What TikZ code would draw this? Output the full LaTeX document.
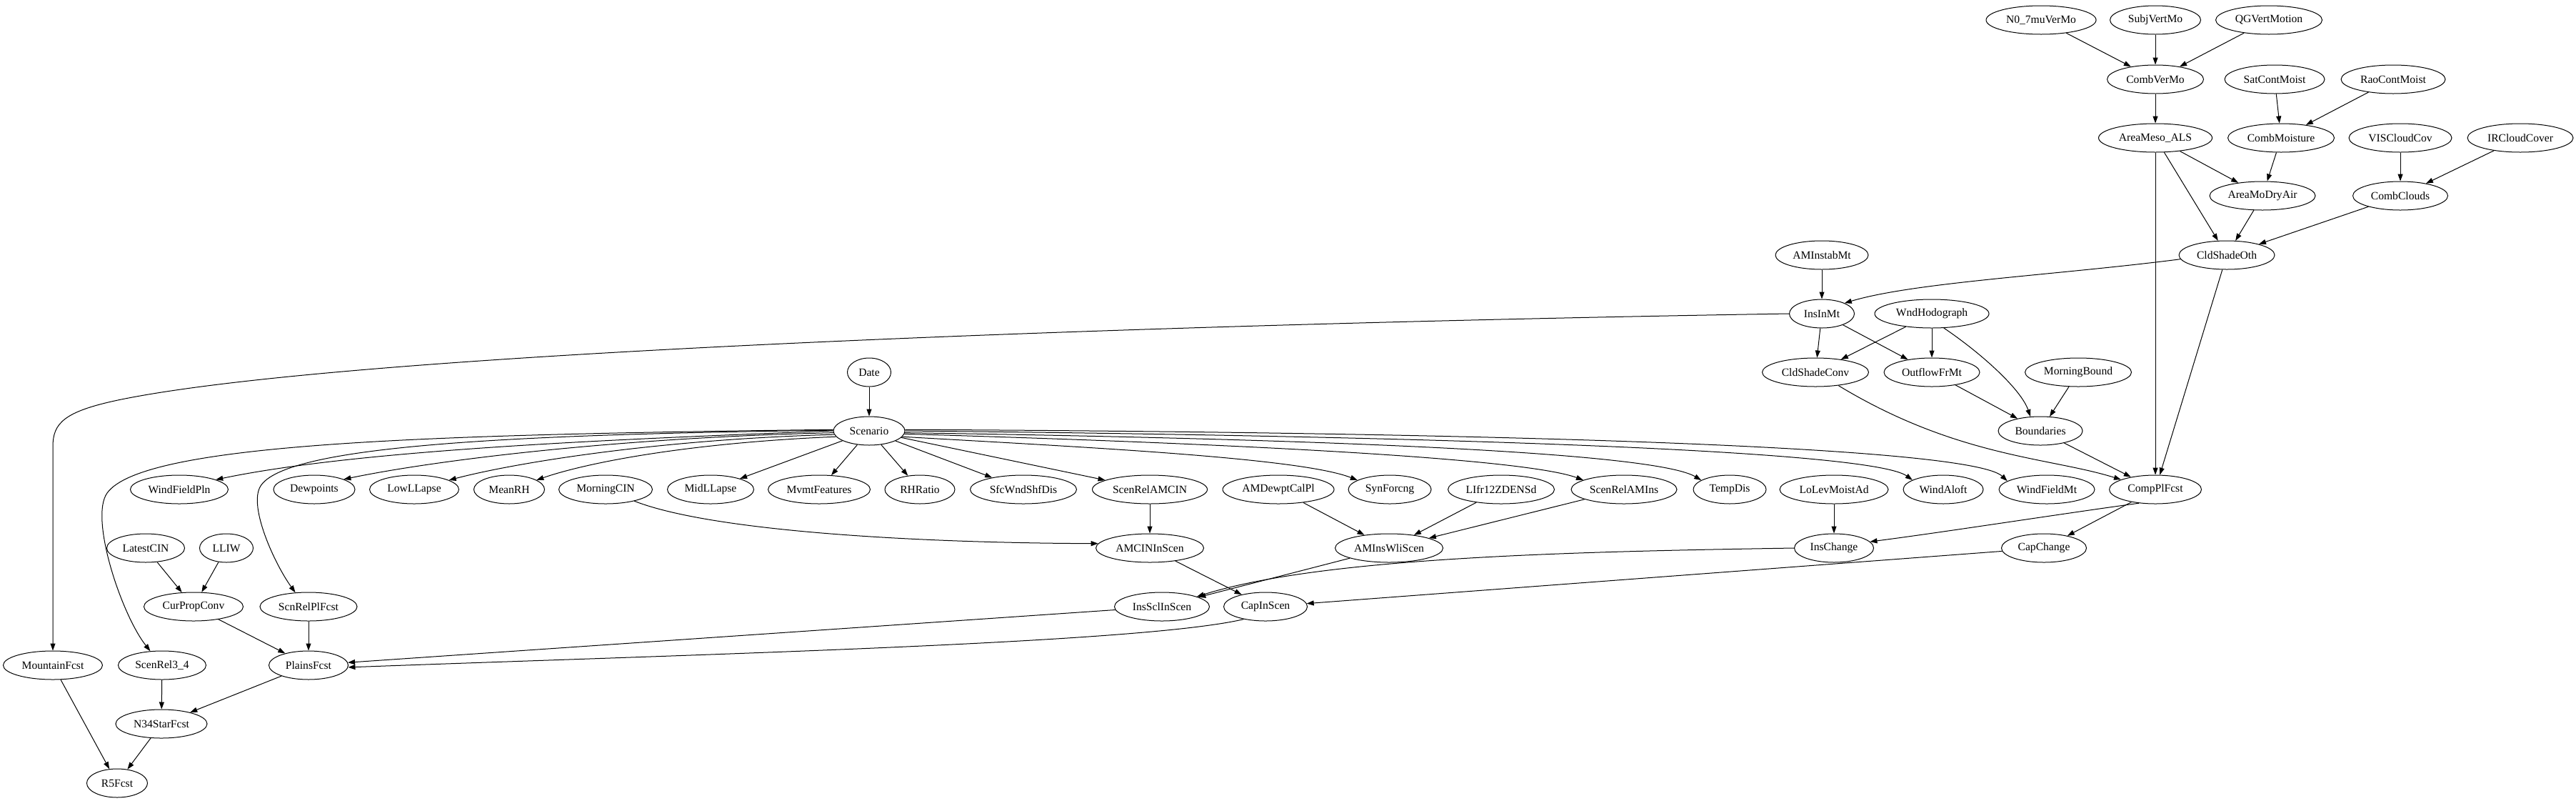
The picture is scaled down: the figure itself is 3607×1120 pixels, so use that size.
\documentclass[tikz,border=0pt]{standalone}
\usepackage{fontspec}
\setmainfont{Liberation Serif}
\usetikzlibrary{shapes.geometric,arrows.meta}
\begin{document}
\begin{tikzpicture}[x=1pt,y=-1pt,
  nd/.style={ellipse,draw,line width=1pt,inner sep=0pt,minimum height=40pt,font=\fontsize{15.6}{18}\selectfont},
  arr/.style={line width=1pt,-{Triangle[length=10pt,width=7pt]}}]
\useasboundingbox (0,0) rectangle (3607,1120);
% row 1
\node[nd,minimum width=154pt] (N07muVerMo) at (2858,28) {N0\_7muVerMo};
\node[nd,minimum width=127pt] (SubjVertMo) at (3018,28) {SubjVertMo};
\node[nd,minimum width=149pt] (QGVertMotion) at (3177,28) {QGVertMotion};
% row 2
\node[nd,minimum width=135pt] (CombVerMo) at (3018,111) {CombVerMo};
\node[nd,minimum width=140pt] (SatContMoist) at (3185,111) {SatContMoist};
\node[nd,minimum width=146pt] (RaoContMoist) at (3351,111) {RaoContMoist};
% row 3
\node[nd,minimum width=159pt] (AreaMesoALS) at (3018,193) {AreaMeso\_ALS};
\node[nd,minimum width=149pt] (CombMoisture) at (3194,193) {CombMoisture};
\node[nd,minimum width=144pt] (VISCloudCov) at (3361,193) {VISCloudCov};
\node[nd,minimum width=148pt] (IRCloudCover) at (3529,193) {IRCloudCover};
% row 4
\node[nd,minimum width=148pt] (AreaMoDryAir) at (3168,274) {AreaMoDryAir};
\node[nd,minimum width=133pt] (CombClouds) at (3361,274) {CombClouds};
% row 5
\node[nd,minimum width=130pt] (AMInstabMt) at (2551,357) {AMInstabMt};
\node[nd,minimum width=134pt] (CldShadeOth) at (3118,357) {CldShadeOth};
% row 6
\node[nd,minimum width=91pt] (InsInMt) at (2551,439) {InsInMt};
\node[nd,minimum width=160pt] (WndHodograph) at (2705,439) {WndHodograph};
% row 7
\node[nd,minimum width=61pt] (Date) at (1217,521) {Date};
\node[nd,minimum width=149pt] (CldShadeConv) at (2542,521) {CldShadeConv};
\node[nd,minimum width=134pt] (OutflowFrMt) at (2705,521) {OutflowFrMt};
\node[nd,minimum width=149pt] (MorningBound) at (2910,521) {MorningBound};
% row 8
\node[nd,minimum width=100pt] (Scenario) at (1217,603) {Scenario};
\node[nd,minimum width=118pt] (Boundaries) at (2857,603) {Boundaries};
% row 9
\node[nd,minimum width=137pt] (WindFieldPln) at (251,685) {WindFieldPln};
\node[nd,minimum width=114pt] (Dewpoints) at (440,685) {Dewpoints};
\node[nd,minimum width=125pt] (LowLLapse) at (580,685) {LowLLapse};
\node[nd,minimum width=99pt] (MeanRH) at (713,685) {MeanRH};
\node[nd,minimum width=131pt] (MorningCIN) at (848,685) {MorningCIN};
\node[nd,minimum width=121pt] (MidLLapse) at (995,685) {MidLLapse};
\node[nd,minimum width=143pt] (MvmtFeatures) at (1147,685) {MvmtFeatures};
\node[nd,minimum width=98pt] (RHRatio) at (1288,685) {RHRatio};
\node[nd,minimum width=149pt] (SfcWndShfDis) at (1433,685) {SfcWndShfDis};
\node[nd,minimum width=161pt] (ScenRelAMCIN) at (1610,685) {ScenRelAMCIN};
\node[nd,minimum width=156pt] (AMDewptCalPl) at (1790,685) {AMDewptCalPl};
\node[nd,minimum width=116pt] (SynForcng) at (1946,685) {SynForcng};
\node[nd,minimum width=149pt] (LIfrZDENSd) at (2102,685) {LIfr12ZDENSd};
\node[nd,minimum width=148pt] (ScenRelAMIns) at (2274,685) {ScenRelAMIns};
\node[nd,minimum width=102pt] (TempDis) at (2422,685) {TempDis};
\node[nd,minimum width=152pt] (LoLevMoistAd) at (2568,685) {LoLevMoistAd};
\node[nd,minimum width=112pt] (WindAloft) at (2721,685) {WindAloft};
\node[nd,minimum width=134pt] (WindFieldMt) at (2866,685) {WindFieldMt};
\node[nd,minimum width=129pt] (CompPlFcst) at (3018,685) {CompPlFcst};
% row 10
\node[nd,minimum width=109pt] (LatestCIN) at (204,767) {LatestCIN};
\node[nd,minimum width=75pt] (LLIW) at (317,767) {LLIW};
\node[nd,minimum width=151pt] (AMCINInScen) at (1610,767) {AMCINInScen};
\node[nd,minimum width=151pt] (AMInsWliScen) at (1945,767) {AMInsWliScen};
\node[nd,minimum width=111pt] (InsChange) at (2568,767) {InsChange};
\node[nd,minimum width=119pt] (CapChange) at (2862,767) {CapChange};
% row 11
\node[nd,minimum width=139pt] (CurPropConv) at (271,849) {CurPropConv};
\node[nd,minimum width=136pt] (ScnRelPlFcst) at (432,849) {ScnRelPlFcst};
\node[nd,minimum width=133pt] (InsSclInScen) at (1627,849) {InsSclInScen};
\node[nd,minimum width=117pt] (CapInScen) at (1772,849) {CapInScen};
% row 12
\node[nd,minimum width=139pt] (MountainFcst) at (74,931) {MountainFcst};
\node[nd,minimum width=123pt] (ScenRelThFo) at (227,931) {ScenRel3\_4};
\node[nd,minimum width=111pt] (PlainsFcst) at (432,931) {PlainsFcst};
% rows 13-14
\node[nd,minimum width=128pt] (NStarFcst) at (226,1013) {N34StarFcst};
\node[nd,minimum width=85pt] (RFcst) at (164,1096) {R5Fcst};

% straight edges
\draw[arr] (N07muVerMo) -- (CombVerMo);
\draw[arr] (SubjVertMo) -- (CombVerMo);
\draw[arr] (QGVertMotion) -- (CombVerMo);
\draw[arr] (CombVerMo) -- (AreaMesoALS);
\draw[arr] (SatContMoist) -- (CombMoisture);
\draw[arr] (RaoContMoist) -- (CombMoisture);
\draw[arr] (AreaMesoALS) -- (AreaMoDryAir);
\draw[arr] (CombMoisture) -- (AreaMoDryAir);
\draw[arr] (VISCloudCov) -- (CombClouds);
\draw[arr] (IRCloudCover) -- (CombClouds);
\draw[arr] (AreaMesoALS) -- (CldShadeOth);
\draw[arr] (AreaMoDryAir) -- (CldShadeOth);
\draw[arr] (CombClouds) -- (CldShadeOth);
\draw[arr] (AreaMesoALS) -- (CompPlFcst);
\draw[arr] (CldShadeOth) -- (CompPlFcst);
\draw[arr] (AMInstabMt) -- (InsInMt);
\draw[arr] (InsInMt) -- (CldShadeConv);
\draw[arr] (InsInMt) -- (OutflowFrMt);
\draw[arr] (WndHodograph) -- (CldShadeConv);
\draw[arr] (WndHodograph) -- (OutflowFrMt);
\draw[arr] (OutflowFrMt) -- (Boundaries);
\draw[arr] (MorningBound) -- (Boundaries);
\draw[arr] (Boundaries) -- (CompPlFcst);
\draw[arr] (CompPlFcst) -- (CapChange);
\draw[arr] (LoLevMoistAd) -- (InsChange);
\draw[arr] (CapChange) -- (CapInScen);
\draw[arr] (Date) -- (Scenario);
\draw[arr] (Scenario) -- (MidLLapse);
\draw[arr] (Scenario) -- (MvmtFeatures);
\draw[arr] (Scenario) -- (RHRatio);
\draw[arr] (Scenario) -- (SfcWndShfDis);
\draw[arr] (Scenario) -- (ScenRelAMCIN);
\draw[arr] (ScenRelAMCIN) -- (AMCINInScen);
\draw[arr] (AMDewptCalPl) -- (AMInsWliScen);
\draw[arr] (LIfrZDENSd) -- (AMInsWliScen);
\draw[arr] (ScenRelAMIns) -- (AMInsWliScen);
\draw[arr] (AMCINInScen) -- (CapInScen);
\draw[arr] (AMInsWliScen) -- (InsSclInScen);
\draw[arr] (InsSclInScen) -- (PlainsFcst);
\draw[arr] (LatestCIN) -- (CurPropConv);
\draw[arr] (LLIW) -- (CurPropConv);
\draw[arr] (CurPropConv) -- (PlainsFcst);
\draw[arr] (ScnRelPlFcst) -- (PlainsFcst);
\draw[arr] (PlainsFcst) -- (NStarFcst);
\draw[arr] (ScenRelThFo) -- (NStarFcst);
\draw[arr] (MountainFcst) -- (RFcst);
\draw[arr] (NStarFcst) -- (RFcst);

% curved edges
\draw[arr] (CldShadeOth.185) .. controls (2880,385) and (2680,395) .. (InsInMt.25);
\draw[arr] (InsInMt.west) .. controls (1700,452) and (500,490) .. (165,560)
   .. controls (90,576) and (74,592) .. (74,625) -- (MountainFcst.north);
\draw[arr] (WndHodograph.-50) .. controls (2775,495) and (2830,545) .. (Boundaries.125);
\draw[arr] (CldShadeConv.-30) .. controls (2740,640) and (2870,640) .. (CompPlFcst.164);
\draw[arr] (CompPlFcst.-140) .. controls (2880,720) and (2720,745) .. (InsChange.10);
\draw[arr] (InsChange.180) .. controls (2200,772) and (1850,780) .. (InsSclInScen.16);
\draw[arr] (CapInScen.-150) .. controls (1600,900) and (1000,915) .. (PlainsFcst.-3);
\draw[arr] (MorningCIN.-22) .. controls (1000,745) and (1300,760) .. (AMCINInScen.175);

\draw[arr] (Scenario.180) .. controls (850,615) and (500,630) .. (WindFieldPln.15);
\draw[arr] (Scenario.183) .. controls (880,612) and (620,642) .. (Dewpoints.19);
\draw[arr] (Scenario.186) .. controls (920,615) and (720,648) .. (LowLLapse.15);
\draw[arr] (Scenario.190) .. controls (960,620) and (820,648) .. (MeanRH.19);
\draw[arr] (Scenario.178) .. controls (600,608) and (200,620) .. (150,690)
   .. controls (125,725) and (170,860) .. (ScenRelThFo.130);
\draw[arr] (Scenario.179) .. controls (700,608) and (400,625) .. (365,680)
   .. controls (347,708) and (385,790) .. (ScnRelPlFcst.133);
\draw[arr] (Scenario.-10) .. controls (1500,625) and (1820,640) .. (SynForcng.164);
\draw[arr] (Scenario.-5) .. controls (1700,620) and (2130,640) .. (ScenRelAMIns.167);
\draw[arr] (Scenario.-3) .. controls (1900,615) and (2320,635) .. (TempDis.162);
\draw[arr] (Scenario.0) .. controls (2000,610) and (2620,630) .. (WindAloft.163);
\draw[arr] (Scenario.2) .. controls (2100,605) and (2760,625) .. (WindFieldMt.168);
\end{tikzpicture}
\end{document}
